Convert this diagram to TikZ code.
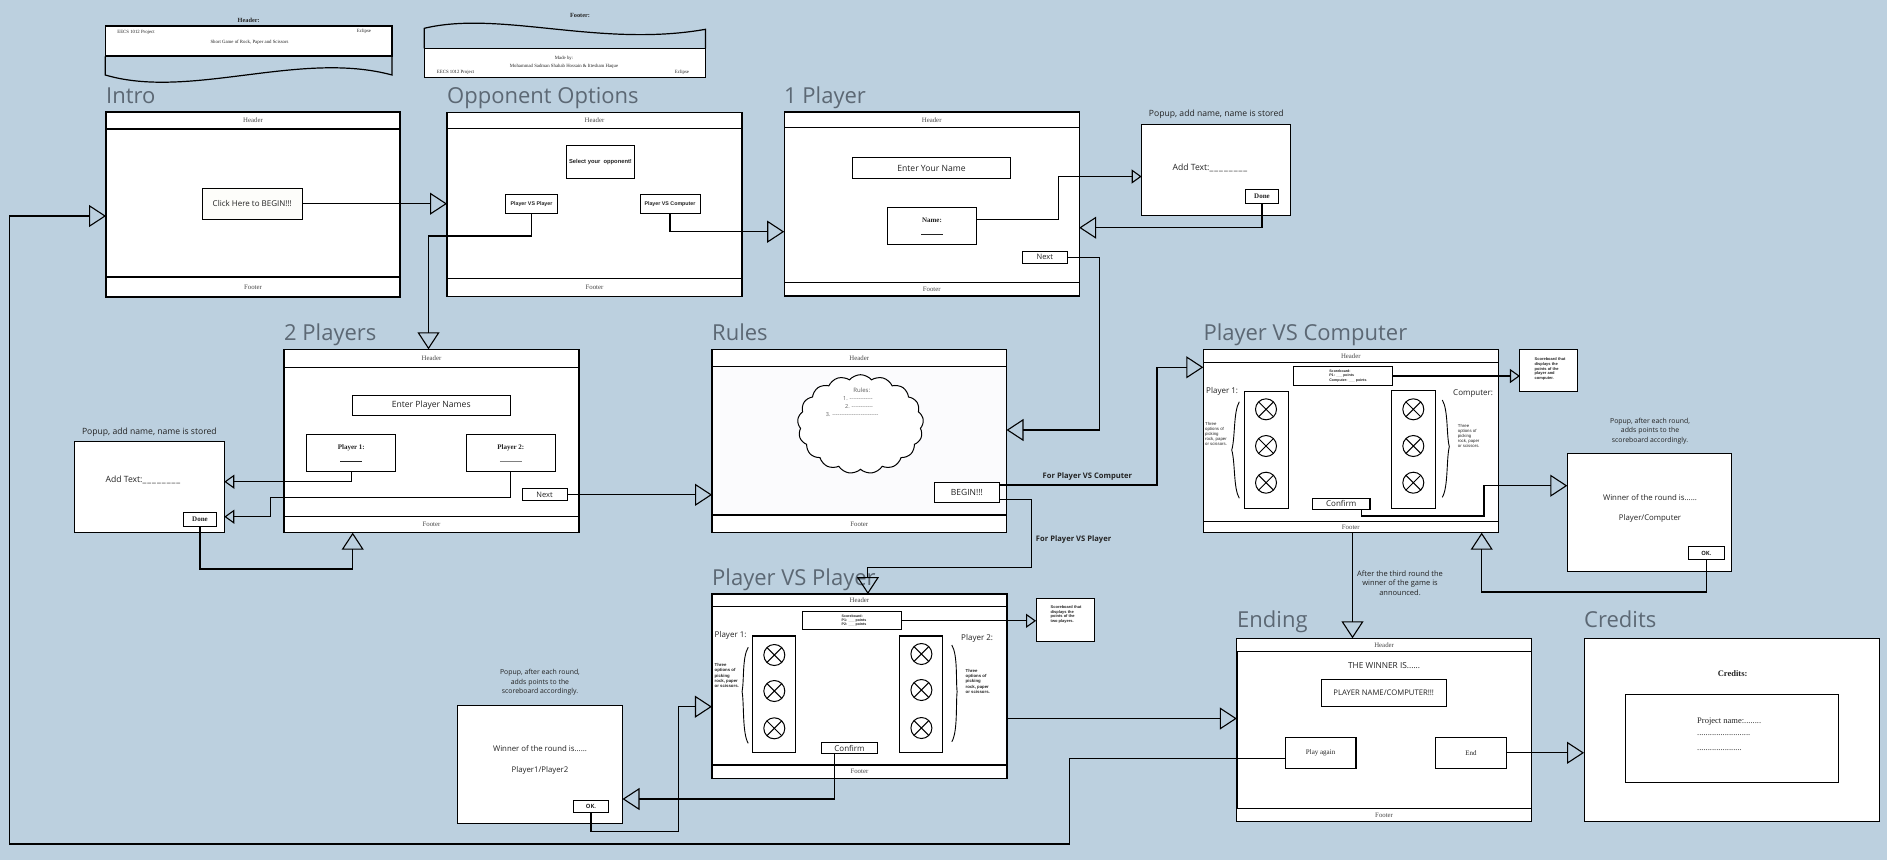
\documentclass[tikz,border=0pt]{standalone}
\usepackage{fontspec}
\setmainfont{Liberation Serif}
\newfontfamily\sns{Open Sans}
\newfontfamily\arl{Liberation Sans}
\usetikzlibrary{arrows.meta,shapes.symbols,calc}
\definecolor{bg}{RGB}{188,208,223}
\definecolor{ttlgray}{RGB}{92,104,116}
\definecolor{txt}{RGB}{35,35,35}
\newcommand\mybraceL[5]{\draw[line width=0.9pt] (#1,#2) .. controls ({#1-6},{#2+10}) and ({#1-4},{#4-12}) .. (#3,#4) .. controls ({#1-4},{#4+12}) and ({#1-6},{#5-10}) .. (#1,#5);}
\newcommand\mybraceR[5]{\draw[line width=0.9pt] (#1,#2) .. controls ({#1+6},{#2+10}) and ({#1+4},{#4-12}) .. (#3,#4) .. controls ({#1+4},{#4+12}) and ({#1+6},{#5-10}) .. (#1,#5);}
\tikzset{
  bx/.style={draw, line width=1pt, fill=white, inner sep=0pt, outer sep=0pt, align=center, text=txt},
  frm/.style={bx, line width=1.4pt, minimum width=295, minimum height=184},
  bar/.style={bx, line width=1.2pt, font=\fontsize{6.8}{7}\selectfont, text={rgb,255:red,70;green,70;blue,70}},
  ttl/.style={anchor=base west, inner sep=0pt, font=\sns\fontsize{22}{24}\selectfont, text=ttlgray},
  tri/.style={line width=1.1pt, -{Triangle[open, length=17pt, width=22pt]}},
  tris/.style={line width=1.1pt, -{Triangle[open, length=10pt, width=14pt]}},
  lbl/.style={inner sep=0pt, align=center, text=txt},
  xc/.style={draw, circle, line width=1pt, minimum size=21, inner sep=0pt, fill=white,
    path picture={\draw[line width=1pt] (path picture bounding box.north west) -- (path picture bounding box.south east) (path picture bounding box.north east) -- (path picture bounding box.south west);}},
  tiny/.style={lbl, align=left, font=\arl\bfseries\fontsize{3.6}{4.2}\selectfont},
  opt/.style={lbl, align=left, anchor=west, font=\arl\fontsize{4.3}{5.2}\selectfont},
  sn/.style={font=\sns\fontsize{#1}{#1}\selectfont},
}
\begin{document}
\begin{tikzpicture}[x=1pt,y=-1pt]
\useasboundingbox[fill=bg] (0,0) rectangle (1887,860);

% ---------- top banners ----------
\node[lbl, font=\bfseries\fontsize{6.3}{7}\selectfont] (hbT) at (248.7,20.7) {Header:};
\node[bx, line width=1.2pt, minimum width=286.7, minimum height=30] (hb) at (248.7,41) {};
\draw[line width=1.2pt] (hb.south west) -- (105.3,75) .. controls (190,100) and (300,50) .. (392,75) -- (hb.south east);
\node[lbl, font=\fontsize{4.8}{5}\selectfont] (hb1) at (136,32.3) {EECS 1012 Project};
\node[lbl, font=\fontsize{4.8}{5}\selectfont] (hb2) at (364,31) {Eclipse};
\node[lbl, font=\fontsize{4.8}{5}\selectfont] (hb3) at (249.5,42.7) {Short Game of Rock, Paper and Scissors};

\node[lbl, font=\bfseries\fontsize{6.3}{7}\selectfont] (fbT) at (580,15) {Footer:};
\node[bx, line width=1.2pt, minimum width=281.2, minimum height=29] (fb) at (564.9,62.8) {};
\draw[line width=1.2pt] (fb.north west) -- (424.3,28.3) .. controls (500,10) and (600,48) .. (705.5,29.3) -- (fb.north east);
\node[lbl, font=\fontsize{4.8}{5}\selectfont] (fb1) at (564,58.3) {Made by:};
\node[lbl, font=\fontsize{4.8}{5}\selectfont] (fb2) at (564,66) {Mohammad Sadman Shahab Hossain \& Ittesham Haque};
\node[lbl, font=\fontsize{4.8}{5}\selectfont] (fb3) at (455.6,72.7) {EECS 1012 Project};
\node[lbl, font=\fontsize{4.8}{5}\selectfont] (fb4) at (682,72.7) {Eclipse};

% ---------- Intro ----------
\node[frm, minimum width=294, minimum height=185] (intro) at (253,204.5) {};
\node[bar, minimum width=294, minimum height=17] (introH) at (253,120.5) {Header};
\node[bar, minimum width=294, minimum height=20] (introF) at (253,287) {Footer};
\node[ttl] (introT) at (106,103) {Intro};
\node[bx, fill={rgb,255:red,253;green,253;blue,250}, minimum width=99.5, minimum height=31.3, sn=8] (ibtn) at (252.3,203.7) {Click Here to BEGIN!!!};

% ---------- Opponent Options ----------
\node[frm] (opp) at (594.5,204.5) {};
\node[bar, minimum width=295, minimum height=16] (oppH) at (594.5,120.3) {Header};
\node[bar, minimum width=295, minimum height=18.5] (oppF) at (594.5,287.6) {Footer};
\node[ttl] (oppT) at (447,103) {Opponent Options};
\node[bx, minimum width=68, minimum height=32.7, font=\arl\bfseries\fontsize{5.8}{6}\selectfont] (oppsel) at (600.5,162.3) {Select your\ \ opponent!};
\node[bx, minimum width=52, minimum height=19, font=\arl\bfseries\fontsize{5.3}{6}\selectfont] (oppvp) at (531.5,203.8) {Player VS Player};
\node[bx, minimum width=60, minimum height=19, font=\arl\bfseries\fontsize{5.3}{6}\selectfont] (oppvc) at (670,203.8) {Player VS Computer};

% ---------- 1 Player ----------
\node[frm] (one) at (931.7,204) {};
\node[bar, minimum width=295, minimum height=15] (oneH) at (931.7,119.8) {Header};
\node[bar, minimum width=295, minimum height=13.3] (oneF) at (931.7,289.3) {Footer};
\node[ttl] (oneT) at (784,103) {1 Player};
\node[bx, minimum width=158.4, minimum height=20.6, sn=8.6] (oneenter) at (931.5,168) {Enter Your Name};
\node[bx, minimum width=89.4, minimum height=37.3, font=\bfseries\fontsize{7}{7}\selectfont] (onename) at (932,226.3) {Name:\\[5pt]\rule{22pt}{0.6pt}};
\node[bx, minimum width=45, minimum height=12.3, sn=7.5] (onenext) at (1044.8,257.2) {Next};
\node[bx, minimum width=149.3, minimum height=90.7] (pop1) at (1216.3,169.7) {};
\node[lbl, sn=8.6] (pop1L) at (1216.3,114) {Popup, add name, name is stored};
\node[lbl, sn=8.6] (pop1t) at (1210,168.3) {Add Text:\_\kern1pt\_\kern1pt\_\kern1pt\_\kern1pt\_\kern1pt\_\kern1pt\_\kern1pt\_};
\node[bx, minimum width=32.6, minimum height=14, font=\bfseries\fontsize{7}{7}\selectfont] (pop1done) at (1262,196.3) {Done};

% ---------- 2 Players ----------
\node[frm, minimum height=183.4] (two) at (431.5,441) {};
\node[bar, minimum width=295, minimum height=18] (twoH) at (431.5,358.3) {Header};
\node[bar, minimum width=295, minimum height=16] (twoF) at (431.5,524.7) {Footer};
\node[ttl] (twoT) at (284,340) {2 Players};
\node[bx, minimum width=158.4, minimum height=20, sn=8.6] (twoenter) at (431.2,405) {Enter Player Names};
\node[bx, minimum width=88.8, minimum height=36.7, font=\bfseries\fontsize{7}{7}\selectfont] (twop1) at (351.3,453.3) {Player 1:\\[5pt]\rule{22pt}{0.6pt}};
\node[bx, minimum width=88.9, minimum height=36.7, font=\bfseries\fontsize{7}{7}\selectfont] (twop2) at (510.8,453.3) {Player 2:\\[5pt]{\color{gray}\rule{22pt}{0.9pt}}};
\node[bx, minimum width=45.2, minimum height=11.7, sn=7.5] (twonext) at (544.6,494.8) {Next};
\node[bx, minimum width=149.8, minimum height=91] (pop2) at (149.4,487.2) {};
\node[lbl, sn=8.6] (pop2L) at (149.4,432.3) {Popup, add name, name is stored};
\node[lbl, sn=8.6] (pop2t) at (143,480) {Add Text:\_\kern1pt\_\kern1pt\_\kern1pt\_\kern1pt\_\kern1pt\_\kern1pt\_\kern1pt\_};
\node[bx, minimum width=33.4, minimum height=14.4, font=\bfseries\fontsize{7}{7}\selectfont] (pop2done) at (200,519.5) {Done};

% ---------- Rules ----------
\node[frm, minimum width=294.5, minimum height=183.4, fill={rgb,255:red,251;green,251;blue,253}] (rules) at (859.3,441) {};
\node[bar, minimum width=294.5, minimum height=17.4] (rulesH) at (859.3,358) {Header};
\node[bar, minimum width=294.5, minimum height=17.7] (rulesF) at (859.3,523.8) {Footer};
\node[ttl] (rulesT) at (712,340) {Rules};
\node[cloud, draw, line width=1pt, fill=white, cloud puffs=17, cloud puff arc=100, aspect=1.27, minimum width=126, minimum height=99, inner sep=0pt] (cloud) at (860.5,424.2) {};
\node[lbl, sn=6, text={rgb,255:red,90;green,90;blue,90}] (r0) at (861.8,390) {Rules:};
\node[lbl, anchor=west, sn=5.5, text={rgb,255:red,90;green,90;blue,90}] (r1) at (843,398.3) {1. -------------};
\node[lbl, anchor=west, sn=5.5, text={rgb,255:red,90;green,90;blue,90}] (r2) at (845,406.7) {2. ------------};
\node[lbl, anchor=west, sn=5.5, text={rgb,255:red,90;green,90;blue,90}] (r3) at (825.7,415) {3. --------------------------};
\node[bx, minimum width=65.4, minimum height=20, sn=8.5] (begin) at (966.9,492.3) {BEGIN!!!};

% ---------- Player VS Computer ----------
\node[frm, minimum height=183.4] (pvc) at (1350.8,441) {};
\node[bar, minimum width=295, minimum height=13] (pvcH) at (1350.8,355.8) {Header};
\node[bar, minimum width=295, minimum height=11] (pvcF) at (1350.8,527.2) {Footer};
\node[ttl] (pvcT) at (1203.3,340) {Player VS Computer};
\node[bx, minimum width=98.7, minimum height=18.6] (pvcsb) at (1343.3,376) {};
\node[tiny] (pvcsbt) at (1348,376) {Scoreboard:\\P1: \_\_\_ points\\Computer: \_\_\_ points};
\node[bx, minimum width=57.7, minimum height=41.7] (pvcnote) at (1548.8,370.2) {};
\node[tiny, font=\arl\bfseries\fontsize{4}{4.7}\selectfont] (pvcnotet) at (1550,369) {Scoreboard that\\displays the\\points of the\\player and\\computer.};
\node[lbl, sn=8, anchor=west] (pvcp1) at (1206,391) {Player 1:};
\node[lbl, sn=8, anchor=west] (pvccp) at (1453,393.3) {Computer:};
\node[bx, line width=1.1pt, minimum width=44, minimum height=117] (pvcL) at (1266.3,450.2) {};
\node[bx, line width=1.1pt, minimum width=43.7, minimum height=117.6] (pvcR) at (1413.2,449.5) {};
\node[xc] (pvcL1) at (1266,409.3) {};
\node[xc] (pvcL2) at (1266,446) {};
\node[xc] (pvcL3) at (1266,482.7) {};
\node[xc] (pvcR1) at (1413.3,409.3) {};
\node[xc] (pvcR2) at (1413.3,446) {};
\node[xc] (pvcR3) at (1413.3,482.7) {};
\mybraceL{1239.3}{401.7}{1231.7}{450}{498.3}
\mybraceR{1442.3}{400}{1449.3}{446.7}{497.3}
\node[opt] (pvcLo) at (1205,434) {Three\\options of\\picking\\rock, paper\\or scissors.};
\node[opt] (pvcRo) at (1457.7,436) {Three\\options of\\picking\\rock, paper\\or scissors.};
\node[bx, line width=1.2pt, minimum width=57.3, minimum height=11, sn=8] (pvcconf) at (1341.3,503.8) {Confirm};
\node[bx, minimum width=164.4, minimum height=117.7] (pvcpop) at (1649.5,512.2) {};
\node[lbl, font=\sns\fontsize{6.9}{9.2}\selectfont] (pvcpopL) at (1650,431) {Popup, after each round,\\adds points to the\\scoreboard accordingly.};
\node[lbl, sn=7.8] (pvcpop1) at (1650,497.7) {Winner of the round is......};
\node[lbl, sn=7.8] (pvcpop2) at (1650,518.3) {Player/Computer};
\node[bx, minimum width=36, minimum height=13.3, font=\sns\bfseries\fontsize{5.8}{6}\selectfont] (pvcok) at (1706.3,553.3) {OK.};

% ---------- Player VS Player ----------
\node[frm, minimum height=184.3] (pvp) at (859.4,686.2) {};
\node[bar, minimum width=295, minimum height=12.7] (pvpH) at (859.4,600.3) {Header};
\node[bar, minimum width=295, minimum height=13.3] (pvpF) at (859.4,771.7) {Footer};
\node[ttl] (pvpT) at (712,585) {Player VS Player};
\node[bx, minimum width=99.3, minimum height=18.3] (pvpsb) at (852.2,620.8) {};
\node[tiny] (pvpsbt) at (854,620.8) {Scoreboard:\\P1: \_\_\_ points\\P2: \_\_\_ points};
\node[bx, minimum width=58.3, minimum height=43.4] (pvpnote) at (1065.2,620) {};
\node[tiny, font=\arl\bfseries\fontsize{4}{4.7}\selectfont] (pvpnotet) at (1066,614.5) {Scoreboard that\\displays the\\points of the\\two players.};
\node[lbl, sn=8, anchor=west] (pvpp1) at (714.5,635) {Player 1:};
\node[lbl, sn=8, anchor=west] (pvpp2) at (961,638.3) {Player 2:};
\node[bx, line width=1.1pt, minimum width=43.2, minimum height=116.7] (pvpL) at (774.1,694.3) {};
\node[bx, line width=1.1pt, minimum width=43.6, minimum height=116.7] (pvpR) at (921.1,694.3) {};
\node[xc] (pvpL1) at (774.3,655) {};
\node[xc] (pvpL2) at (774.3,691) {};
\node[xc] (pvpL3) at (774.3,728.3) {};
\node[xc] (pvpR1) at (921.4,654) {};
\node[xc] (pvpR2) at (921.4,690) {};
\node[xc] (pvpR3) at (921.4,728) {};
\mybraceL{748.2}{647.3}{742.1}{691.7}{743.3}
\mybraceR{951.8}{645}{957.1}{691.7}{741.7}
\node[opt, font=\arl\bfseries\fontsize{4.3}{5.2}\selectfont] (pvpLo) at (714.5,675.5) {Three\\options of\\picking\\rock, paper\\or scissors.};
\node[opt, font=\arl\bfseries\fontsize{4.3}{5.2}\selectfont] (pvpRo) at (965.5,681.3) {Three\\options of\\picking\\rock, paper\\or scissors.};
\node[bx, line width=1.2pt, minimum width=56.1, minimum height=10.6, sn=8] (pvpconf) at (849.5,748) {Confirm};
\node[bx, minimum width=164.6, minimum height=118.3] (pvppop) at (540.2,764.2) {};
\node[lbl, font=\sns\fontsize{6.9}{9.2}\selectfont] (pvppopL) at (540,682.3) {Popup, after each round,\\adds points to the\\scoreboard accordingly.};
\node[lbl, sn=7.8] (pvppop1) at (540,749) {Winner of the round is......};
\node[lbl, sn=7.8] (pvppop2) at (540,770) {Player1/Player2};
\node[bx, minimum width=35.7, minimum height=12.3, font=\sns\bfseries\fontsize{5.8}{6}\selectfont] (pvpok) at (591,806.2) {OK.};

% ---------- Ending ----------
\node[frm, minimum width=294.6, minimum height=183.4] (endg) at (1384.1,730) {};
\node[bar, minimum width=294.6, minimum height=13.4] (endgH) at (1384.1,645) {Header};
\node[bar, minimum width=294.6, minimum height=13.4] (endgF) at (1384.1,815) {Footer};
\node[ttl] (endgT) at (1237,627) {Ending};
\node[lbl, sn=8.3] (endwinT) at (1384.1,666) {THE WINNER IS......};
\node[bx, minimum width=125.4, minimum height=27.4, sn=7.7] (endwin) at (1383.7,693) {PLAYER NAME/COMPUTER!!!};
\node[bx, line width=1.2pt, minimum width=70.8, minimum height=31, font=\fontsize{7}{7}\selectfont] (endplay) at (1320.6,752.8) {Play again};
\node[bx, line width=1.2pt, minimum width=70.3, minimum height=31, font=\fontsize{7}{7}\selectfont] (endend) at (1471,752.8) {End};

% ---------- Credits ----------
\node[frm, line width=1pt, minimum width=295, minimum height=183.4] (cred) at (1731.5,730) {};
\node[ttl] (credT) at (1584,627) {Credits};
\node[lbl, font=\bfseries\fontsize{8.5}{9}\selectfont] (credL) at (1732.6,673.3) {Credits:};
\node[bx, line width=1.2pt, minimum width=213.4, minimum height=88.4] (credin) at (1732,738.5) {};
\node[lbl, anchor=west, font=\fontsize{8.5}{9}\selectfont] (cred1) at (1697,721.7) {Project name:........};
\node[lbl, anchor=west, font=\fontsize{8.5}{9}\selectfont] (cred2) at (1697,734.7) {.........................};
\node[lbl, anchor=west, font=\fontsize{8.5}{9}\selectfont] (cred3) at (1697,749.7) {.....................};

% ---------- connector labels ----------
\node[lbl, font=\sns\bfseries\fontsize{7.6}{8}\selectfont] (lvc) at (1087.4,476.7) {For Player VS Computer};
\node[lbl, font=\sns\bfseries\fontsize{7.6}{8}\selectfont] (lvp) at (1073.6,539.3) {For Player VS Player};
\node[lbl, font=\sns\fontsize{7.5}{9.7}\selectfont] (lend) at (1400,583) {After the third round the\\winner of the game is\\announced.};

% ---------- connectors ----------
\coordinate (j1) at (428.5,236);
\coordinate (j2) at (700,231.7);
\coordinate (j3a) at (1058.3,219.3);
\coordinate (j3b) at (1058.3,176.5);
\coordinate (j4) at (1100,227.7);
\coordinate (j5) at (1099.5,430);
\coordinate (j6) at (300,481.7);
\coordinate (j7a) at (270.7,497.3);
\coordinate (j7b) at (270.7,516.7);
\coordinate (j8) at (352.7,569);
\coordinate (j9a) at (1157,485);
\coordinate (j9b) at (1157,367.3);
\coordinate (j10a) at (1031.3,499.3);
\coordinate (j10b) at (1031.3,567.3);
\coordinate (j10c) at (867.9,567.3);
\coordinate (j11a) at (1361.7,516);
\coordinate (j11b) at (1484,516);
\coordinate (j11c) at (1484,485.7);
\coordinate (j12) at (1481.7,592);
\coordinate (j13) at (1352.5,600);
\coordinate (j14a) at (834.6,799);
\coordinate (j15a) at (678.6,831.7);
\coordinate (j15b) at (678.6,706.7);
\coordinate (j16) at (1100,718.5);
\coordinate (j17a) at (1069.8,758.5);
\coordinate (j17b) at (1069.8,844);
\coordinate (j17c) at (9.5,844);
\coordinate (j17d) at (9.5,216);

\draw[tri] (ibtn.east) -- (ibtn.east -| opp.west);
\draw[tri] (oppvp.south) |- (j1) -- (j1 |- two.north);
\draw[tri] (oppvc.south) |- (j2 -| one.west);
\draw[tris] (onename.east |- j3a) -- (j3a) -- (j3b) -- (j3b -| pop1.west);
\draw[tri] (pop1done.south) |- (j4 -| one.east);
\draw[tri] (onenext.east) -| (j5) -- (j5 -| rules.east);
\draw[tris] (twop1.south) |- (j6 -| pop2.east);
\draw[tris] (twop2.south) |- (j7a) -- (j7b) -- (j7b -| pop2.east);
\draw[tri] (pop2done.south) |- (j8) -- (j8 |- two.south);
\draw[tri] (twonext.east) -- (twonext.east -| rules.west);
\draw[tri] (begin.east |- j9a) -- (j9a) -- (j9b) -- (j9b -| pvc.west);
\draw[tri] (begin.east |- j10a) -- (j10a) -- (j10b) -- (j10c) -- (j10c |- pvp.north);
\draw[tris] (pvcsb.east) -- (pvcsb.east -| pvcnote.west);
\draw[tri] (pvcconf.south -| j11a) -- (j11a) -- (j11b) -- (j11c) -- (j11c -| pvcpop.west);
\draw[tri] (pvcok.south) |- (j12) -- (j12 |- pvc.south);
\draw[tri] (pvc.south -| j13) -- (j13 |- endg.north);
\draw[tris] (pvpsb.east) -- (pvpsb.east -| pvpnote.west);
\draw[tri] (pvpconf.south -| j14a) -- (j14a) -- (j14a -| pvppop.east);
\draw[tri] (pvpok.south) |- (j15a) -- (j15b) -- (j15b -| pvp.west);
\draw[tri] (pvp.east |- j16) -- (j16 -| endg.west);
\draw[tri] (endplay.west |- j17a) -- (j17a) -- (j17b) -- (j17c) -- (j17d) -- (j17d -| intro.west);
\draw[tri] (endend.east) -- (endend.east -| cred.west);
\end{tikzpicture}
\end{document}
